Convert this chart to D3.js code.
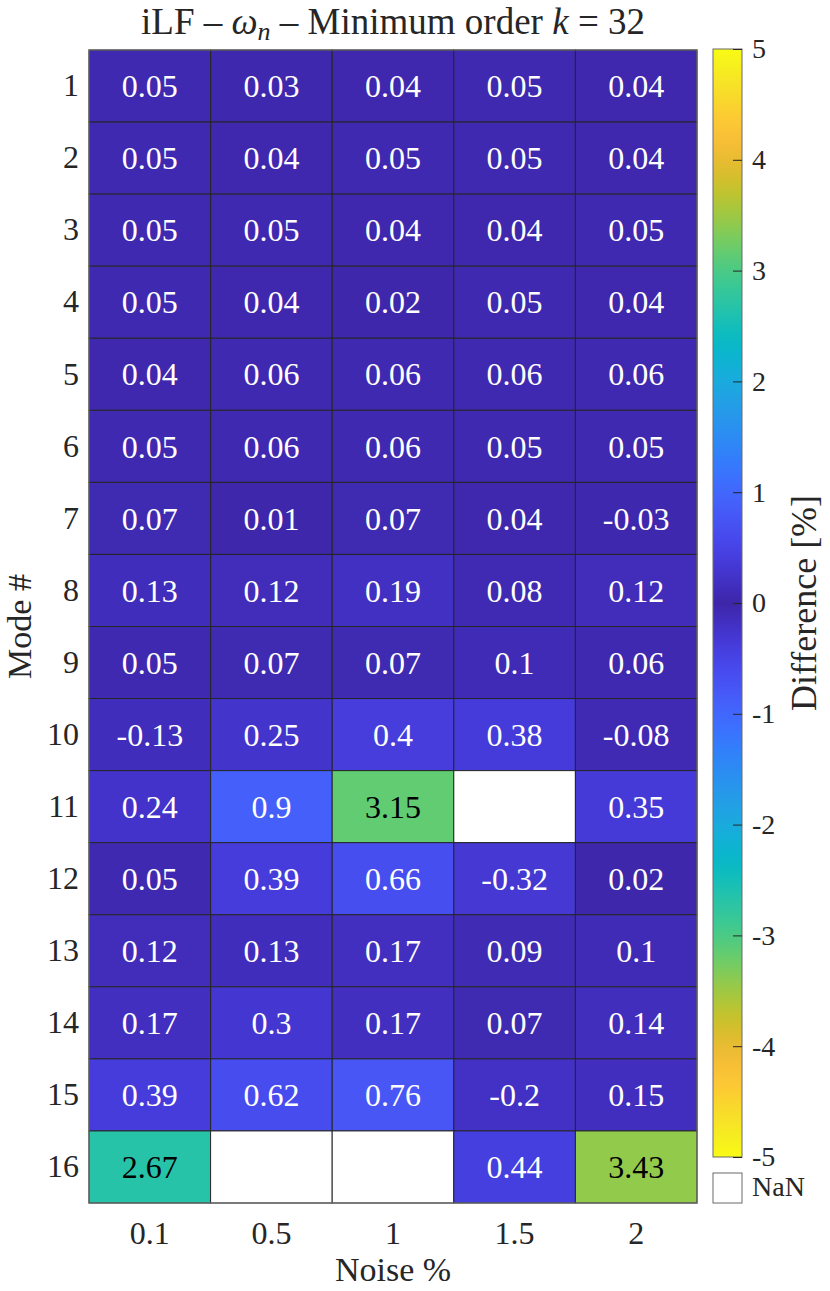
<!DOCTYPE html>
<html>
<head>
<meta charset="utf-8">
<script src="https://cdn.jsdelivr.net/npm/d3@7"></script>
<style>
  body { margin: 0; background: #fff; }
  text { font-family: "Liberation Serif", "DejaVu Serif", serif; fill: #262626; }
</style>
</head>
<body>
<div id="chart"></div>
<script>
var width = 830,
    height = 1291;

// data
var noise = ["0.1", "0.5", "1", "1.5", "2"];
var modes = ["1", "2", "3", "4", "5", "6", "7", "8", "9", "10", "11", "12", "13", "14", "15", "16"];
var col01 = [0.05, 0.05, 0.05, 0.05, 0.04, 0.05, 0.07, 0.13, 0.05, -0.13, 0.24, 0.05, 0.12, 0.17, 0.39, 2.67];
var col05 = [0.03, 0.04, 0.05, 0.04, 0.06, 0.06, 0.01, 0.12, 0.07, 0.25, 0.9, 0.39, 0.13, 0.3, 0.62, null];
var col1  = [0.04, 0.05, 0.04, 0.02, 0.06, 0.06, 0.07, 0.19, 0.07, 0.4, 3.15, 0.66, 0.17, 0.17, 0.76, null];
var col15 = [0.05, 0.05, 0.04, 0.05, 0.06, 0.05, 0.04, 0.08, 0.1, 0.38, null, -0.32, 0.09, 0.07, -0.2, 0.44];
var col2  = [0.04, 0.04, 0.05, 0.04, 0.06, 0.05, -0.03, 0.12, 0.06, -0.08, 0.35, 0.02, 0.1, 0.14, 0.15, 3.43];
var columns = [col01, col05, col1, col15, col2];
var cbTicks = [5, 4, 3, 2, 1, 0, -1, -2, -3, -4, -5];

// parula (old) colormap, sampled
var parula = [
  [0.2422, 0.1504, 0.6603], [0.2647, 0.1978, 0.7952], [0.2783, 0.2559, 0.8991], [0.2810, 0.3228, 0.9579],
  [0.2699, 0.3892, 0.9906], [0.2206, 0.4603, 0.9973], [0.1786, 0.5289, 0.9682], [0.1540, 0.5902, 0.9218],
  [0.1248, 0.6459, 0.8883], [0.0689, 0.6948, 0.8394], [0.0067, 0.7312, 0.7660], [0.1408, 0.7584, 0.6842],
  [0.2161, 0.7843, 0.5923], [0.3406, 0.8008, 0.4789], [0.5044, 0.7993, 0.3480], [0.6720, 0.7793, 0.2227],
  [0.8203, 0.7498, 0.1535], [0.9393, 0.7288, 0.2100], [0.9970, 0.7659, 0.2199], [0.9786, 0.8386, 0.1766],
  [0.9597, 0.9135, 0.1423], [0.9769, 0.9839, 0.0805]
];
var parulaInterp = d3.interpolateRgbBasis(parula.map(function (c) {
  return d3.rgb(c[0] * 255, c[1] * 255, c[2] * 255);
}));
// colorbar is symmetric: colour follows |value|
var color = function (v) { return parulaInterp(Math.min(Math.abs(v) / 5, 1)); };

var cells = [];
columns.forEach(function (col, i) {
  col.forEach(function (v, j) {
    cells.push({ x: noise[i], y: modes[j], v: v });
  });
});

var gLeft = 89, gRight = 697, gTop = 50, gBottom = 1203;

var x = d3.scaleBand().domain(noise).range([gLeft, gRight]);
var y = d3.scaleBand().domain(modes).range([gTop, gBottom]);

var svg = d3.select("#chart").append("svg")
    .attr("width", width)
    .attr("height", height);

var grid = svg.append("g");

grid.selectAll("rect")
    .data(cells)
    .enter()
    .append("rect")
    .attr("x", function (d) { return x(d.x); })
    .attr("y", function (d) { return y(d.y); })
    .attr("width", x.bandwidth())
    .attr("height", y.bandwidth())
    .attr("fill", function (d) { return d.v == null ? "#ffffff" : color(d.v); })
    .attr("stroke", "#262626")
    .attr("stroke-width", 1);

grid.selectAll("text")
    .data(cells.filter(function (d) { return d.v != null; }))
    .enter()
    .append("text")
    .attr("x", function (d) { return x(d.x) + x.bandwidth() / 2; })
    .attr("y", function (d) { return y(d.y) + y.bandwidth() / 2; })
    .attr("dy", "0.35em")
    .attr("text-anchor", "middle")
    .style("font-size", "32px")
    .style("fill", function (d) {
      var c = d3.rgb(color(d.v));
      var lum = 0.299 * c.r + 0.587 * c.g + 0.114 * c.b;
      return lum > 140 ? "#000000" : "#ffffff";
    })
    .text(function (d) { return d.v; });

svg.append("rect")
    .attr("x", gLeft)
    .attr("y", gTop)
    .attr("width", gRight - gLeft)
    .attr("height", gBottom - gTop)
    .attr("fill", "none")
    .attr("stroke", "#6b6b6b")
    .attr("stroke-width", 1.2);

// axes
var xAxis = svg.append("g")
    .attr("transform", "translate(0," + gBottom + ")")
    .call(d3.axisBottom(x).tickSize(0).tickPadding(18));
var yAxis = svg.append("g")
    .attr("transform", "translate(" + gLeft + ",0)")
    .call(d3.axisLeft(y).tickSize(0).tickPadding(10));
[xAxis, yAxis].forEach(function (a) {
  a.select(".domain").remove();
  a.selectAll("text")
      .style("font-family", "'Liberation Serif', serif")
      .style("font-size", "32px")
      .style("fill", "#262626");
});

// title
var title = svg.append("text")
    .attr("x", (gLeft + gRight) / 2)
    .attr("y", 34)
    .attr("text-anchor", "middle")
    .style("font-size", "37px");
title.append("tspan").text("iLF \u2013 ");
title.append("tspan").style("font-style", "italic").text("\u03c9");
title.append("tspan").style("font-style", "italic").style("font-size", "26px").attr("dy", 6).text("n");
title.append("tspan").attr("dy", -6).text(" \u2013 Minimum order ");
title.append("tspan").style("font-style", "italic").text("k");
title.append("tspan").text(" = 32");

svg.append("text")
    .attr("x", (gLeft + gRight) / 2)
    .attr("y", 1281)
    .attr("text-anchor", "middle")
    .style("font-size", "34px")
    .text("Noise %");

svg.append("text")
    .attr("transform", "translate(31," + (gTop + gBottom) / 2 + ") rotate(-90)")
    .attr("text-anchor", "middle")
    .style("font-size", "34px")
    .text("Mode #");

// colorbar
var cbX = 713, cbW = 29, cbTop = 49, cbBottom = 1157;
var cy = d3.scaleLinear().domain([-5, 5]).range([cbBottom, cbTop]);

var grad = svg.append("defs").append("linearGradient")
    .attr("id", "cbgrad")
    .attr("x1", 0).attr("y1", 0).attr("x2", 0).attr("y2", 1);
d3.range(0, 101).forEach(function (i) {
  var f = i / 100;
  grad.append("stop")
      .attr("offset", f)
      .attr("stop-color", color(5 - 10 * f));
});

svg.append("rect")
    .attr("x", cbX)
    .attr("y", cbTop)
    .attr("width", cbW)
    .attr("height", cbBottom - cbTop)
    .attr("fill", "url(#cbgrad)")
    .attr("stroke", "#6b6b6b")
    .attr("stroke-width", 1);

var cAxis = svg.append("g")
    .attr("transform", "translate(" + (cbX + cbW) + ",0)")
    .call(d3.axisRight(cy).tickValues(cbTicks).tickSize(-9).tickPadding(10)
      .tickFormat(function (d) { return String(d); }));
cAxis.select(".domain").remove();
cAxis.selectAll("line").attr("stroke", "#262626");
cAxis.selectAll("text")
    .style("font-family", "'Liberation Serif', serif")
    .style("font-size", "28px")
    .style("fill", "#262626");

// NaN swatch
svg.append("rect")
    .attr("x", cbX)
    .attr("y", 1173)
    .attr("width", cbW)
    .attr("height", 30)
    .attr("fill", "#ffffff")
    .attr("stroke", "#6b6b6b")
    .attr("stroke-width", 1);
svg.append("text")
    .attr("x", 752)
    .attr("y", 1196)
    .style("font-size", "28px")
    .text("NaN");

svg.append("text")
    .attr("transform", "translate(816," + (cbTop + cbBottom) / 2 + ") rotate(-90)")
    .attr("text-anchor", "middle")
    .style("font-size", "36px")
    .text("Difference [%]");
</script>
</body>
</html>
